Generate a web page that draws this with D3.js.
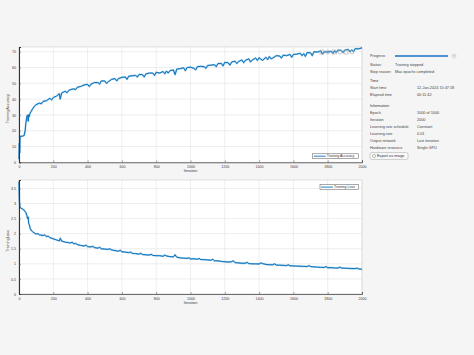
<!DOCTYPE html>
<html><head><meta charset="utf-8">
<script src="https://cdn.jsdelivr.net/npm/d3@7"></script>
<style>html,body{margin:0;padding:0;background:#f5f5f5;}svg{display:block;}</style>
</head><body>
<script>
// ---- data: [iteration, value] ----
const accPoints = [[0,2],[2,12],[4,6],[6,16],[10,16.5],[20,16.5],[30,17],[36,20],[40,25],[46,29],[50,30],[54,26],[56,30],[60,29],[64,31],[70,32],[80,34],[90,35.5],[100,36.5],[120,37.5],[130,37],[140,38.5],[160,39],[180,40.5],[190,39.5],[200,41],[220,42],[235,43.5],[240,40],[250,44],[270,45],[280,44],[290,45.5],[300,46],[320,46.5],[330,46],[340,47.5],[360,48],[380,49],[400,49.3],[410,48],[420,49.5],[440,50.5],[460,50.5],[470,49.5],[480,51.5],[500,51.5],[510,50],[520,51],[540,52.5],[560,53],[570,51.5],[580,53],[600,53.8],[620,54],[630,52.5],[640,54.5],[660,54.8],[680,55],[690,54],[700,55.6],[720,55.5],[730,54],[740,56],[760,56.5],[780,56.5],[790,55],[800,57],[820,56.5],[840,57.5],[850,56],[860,57.8],[870,56.5],[880,58],[900,58.5],[910,55.5],[920,59],[940,59.3],[960,59.8],[970,58],[980,60],[1000,60.2],[1020,59.5],[1030,58.5],[1040,60.5],[1060,60.8],[1080,60.5],[1090,59.5],[1100,61.3],[1120,61.5],[1140,61.8],[1150,60.5],[1160,62.5],[1180,62.6],[1190,61],[1200,63.3],[1220,63],[1230,61.5],[1240,63.5],[1260,64],[1270,62.5],[1280,63.8],[1300,64.8],[1310,63],[1320,64.5],[1340,65.5],[1350,63.5],[1360,64.8],[1380,66],[1390,64.5],[1400,66.2],[1420,64.5],[1440,66.5],[1450,65],[1460,67],[1470,65.5],[1480,66],[1500,67.5],[1520,67.3],[1530,66],[1540,67.8],[1560,67.5],[1580,68.3],[1590,66.5],[1600,68.3],[1620,68.5],[1640,69],[1650,67.5],[1660,68.8],[1670,67],[1680,69.5],[1700,69.3],[1710,67.5],[1720,70],[1740,69.8],[1760,70.5],[1770,68.5],[1780,70],[1800,69.8],[1820,70.3],[1830,69],[1840,70.5],[1850,69.5],[1860,71],[1880,70.8],[1890,69.5],[1900,71],[1920,71.5],[1930,70],[1940,71.2],[1950,70],[1960,72],[1980,71.8],[2000,72.5]];
const lossPoints = [[0,3.72],[2,3.2],[4,2.95],[6,2.88],[10,2.85],[20,2.82],[30,2.78],[40,2.7],[46,2.6],[50,2.5],[54,2.55],[56,2.35],[60,2.3],[64,2.2],[70,2.12],[80,2.06],[90,2.02],[100,1.99],[110,2.0],[120,1.96],[140,1.94],[150,1.96],[160,1.9],[170,1.92],[180,1.87],[200,1.83],[220,1.79],[236,1.76],[240,1.85],[250,1.75],[270,1.72],[290,1.7],[300,1.69],[310,1.72],[320,1.66],[330,1.68],[340,1.64],[360,1.61],[380,1.59],[390,1.62],[400,1.57],[420,1.56],[430,1.58],[440,1.54],[460,1.52],[470,1.55],[480,1.5],[500,1.49],[520,1.48],[530,1.5],[540,1.46],[560,1.44],[580,1.42],[590,1.45],[600,1.4],[620,1.39],[640,1.37],[650,1.39],[660,1.35],[680,1.34],[700,1.32],[710,1.35],[720,1.31],[740,1.3],[760,1.29],[770,1.32],[780,1.28],[800,1.27],[820,1.27],[840,1.25],[850,1.29],[860,1.26],[880,1.24],[900,1.23],[910,1.3],[920,1.22],[940,1.2],[960,1.19],[980,1.18],[990,1.2],[1000,1.16],[1020,1.17],[1040,1.15],[1050,1.18],[1060,1.14],[1080,1.14],[1100,1.13],[1120,1.12],[1130,1.15],[1140,1.1],[1160,1.1],[1180,1.08],[1200,1.07],[1220,1.06],[1240,1.07],[1250,1.1],[1260,1.04],[1280,1.03],[1300,1.02],[1320,1.02],[1330,1.05],[1340,1.01],[1360,1.0],[1380,1.0],[1400,0.995],[1410,1.03],[1420,1.01],[1440,0.98],[1460,0.97],[1480,0.97],[1490,1.0],[1500,0.96],[1520,0.955],[1540,0.95],[1560,0.94],[1570,0.97],[1580,0.935],[1600,0.93],[1620,0.925],[1640,0.92],[1660,0.915],[1680,0.91],[1690,0.94],[1700,0.91],[1720,0.9],[1740,0.89],[1760,0.885],[1780,0.88],[1790,0.91],[1800,0.87],[1820,0.875],[1840,0.865],[1860,0.86],[1870,0.89],[1880,0.86],[1900,0.855],[1920,0.85],[1940,0.845],[1960,0.84],[1970,0.86],[1980,0.835],[2000,0.82]];
const xTicks = [0,200,400,600,800,1000,1200,1400,1600,1800,2000];
const accTicks = [0,10,20,30,40,50,60,70];
const lossTicks = [0,0.5,1,1.5,2,2.5,3,3.5];
const statusRows = [["Status:","Training stopped"],["Stop reason:","Max epochs completed"]];
const timeRows = [["Start time","12-Jan-2024 15:47:18"],["Elapsed time","00:11:42"]];
const infoRows = [["Epoch","1000 of 1000"],["Iteration","2000"],["Learning rate schedule","Constant"],["Learning rate","0.01"],["Output network","Last iteration"],["Hardware resource","Single GPU"]];

// ---- drawing ----
const W=474,H=355;
const svg=d3.select("body").append("svg").attr("width",W).attr("height",H);
svg.append("rect").attr("width",W).attr("height",H).attr("fill","#f5f5f5");
const font="'Liberation Sans', Arial, Helvetica, sans-serif";
const blue="#0a72bd";

function panel(top,bottom,yMax,points,ticks,ylabel,legend,legendPos,fmt){
  const x=d3.scaleLinear([0,2000],[19,362]);
  const y=d3.scaleLinear([0,yMax],[bottom,top]);
  const g=svg.append("g");
  g.append("rect").attr("x",19).attr("y",top).attr("width",343).attr("height",bottom-top).attr("fill","#fff");
  g.selectAll(".vg").data(xTicks).join("line").attr("x1",d=>x(d)).attr("x2",d=>x(d)).attr("y1",top).attr("y2",bottom).attr("stroke","#e3e3e3").attr("stroke-width",0.6);
  g.selectAll(".hg").data(ticks).join("line").attr("x1",19).attr("x2",362).attr("y1",d=>y(d)).attr("y2",d=>y(d)).attr("stroke","#e3e3e3").attr("stroke-width",0.6);
  g.append("rect").attr("x",19).attr("y",top).attr("width",343).attr("height",bottom-top).attr("fill","none").attr("stroke","#c8c8c8").attr("stroke-width",0.5);
  const line=d3.line().x(d=>x(d[0])).y(d=>y(d[1]));
  g.append("path").datum(points).attr("d",line).attr("fill","none").attr("stroke","#5aa6dc").attr("stroke-width",1.8).attr("stroke-linejoin","round").attr("opacity",0.6);
  g.append("path").datum(points).attr("d",line).attr("fill","none").attr("stroke",blue).attr("stroke-width",1.0).attr("stroke-linejoin","round");
  const ax=d3.axisBottom(x).tickValues(xTicks).tickSize(-2).tickPadding(3).tickFormat(d3.format("d"));
  const ga=g.append("g").attr("transform",`translate(0,${bottom})`).call(ax);
  const ay=d3.axisLeft(y).tickValues(ticks).tickSize(-2).tickPadding(3).tickFormat(fmt);
  const gy=g.append("g").attr("transform","translate(19,0)").call(ay);
  [ga,gy].forEach(a=>{a.select(".domain").attr("stroke","#4d4d4d").attr("stroke-width",0.8);
    a.selectAll(".tick line").attr("stroke","#4d4d4d").attr("stroke-width",0.5);
    a.selectAll("text").attr("font-family",font).attr("font-size",3.6).attr("fill","#404040");});
  gy.select(".domain").attr("stroke","#333").attr("stroke-width",1.1);
  g.append("text").attr("x",190.5).attr("y",bottom+9.5).attr("text-anchor","middle").attr("font-family",font).attr("font-size",3.8).attr("fill","#404040").text("Iteration");
  g.append("text").attr("transform",`translate(8.5,${(top+bottom)/2+4}) rotate(-90)`).attr("text-anchor","middle").attr("font-family",font).attr("font-size",3.8).attr("fill","#404040").text(ylabel);
  const [lx,ly,lw]=legendPos;
  g.append("rect").attr("x",lx).attr("y",ly).attr("width",lw).attr("height",4.8).attr("fill","#fff").attr("stroke","#555").attr("stroke-width",0.5);
  g.append("line").attr("x1",lx+1).attr("x2",lx+13).attr("y1",ly+2.4).attr("y2",ly+2.4).attr("stroke",blue).attr("stroke-width",0.9);
  g.append("text").attr("x",lx+14).attr("y",ly+3.6).attr("font-family",font).attr("font-size",3.5).attr("fill","#333").text(legend);
}
panel(47,162.3,73,accPoints,accTicks,"TrainingAccuracy","Training Accuracy",[312.7,153.8,45.6],d3.format("d"));
panel(180,294,3.78,lossPoints,lossTicks,"TrainingLoss","Training Loss",[320,184.7,38.3],d=>String(d));

// axes toolbar icons (faint)
const tb=svg.append("g").attr("stroke","#a8a8a8").attr("fill","none").attr("stroke-width",0.6);
[322,328,334,340,346,352].forEach((cx,i)=>{
  if(i%2===0) tb.append("rect").attr("x",cx-2).attr("y",50).attr("width",4).attr("height",4);
  else tb.append("circle").attr("cx",cx).attr("cy",52).attr("r",2);
});

// right info panel
const tp=svg.append("g").attr("font-family",font).attr("font-size",3.8).attr("fill","#444");
tp.append("text").attr("x",370).attr("y",57.3).text("Progress");
tp.append("line").attr("x1",395).attr("x2",448).attr("y1",56).attr("y2",56).attr("stroke","#1273c4").attr("stroke-width",1.6);
tp.append("circle").attr("cx",454).attr("cy",56).attr("r",2.2).attr("fill","#e8e8e8").attr("stroke","#c8c8c8").attr("stroke-width",0.4);
tp.append("text").attr("x",454).attr("y",57.2).attr("text-anchor","middle").attr("font-size",3).attr("fill","#888").text("×");
const y1=[64.2,71.3];
statusRows.forEach((r,i)=>{tp.append("text").attr("x",370).attr("y",y1[i]+1.3).text(r[0]);tp.append("text").attr("x",395).attr("y",y1[i]+1.3).text(r[1]);});
tp.append("text").attr("x",370).attr("y",82).attr("fill","#333").text("Time");
timeRows.forEach((r,i)=>{const yy=89+i*7.3;tp.append("text").attr("x",370).attr("y",yy).text(r[0]);tp.append("text").attr("x",417).attr("y",yy).text(r[1]);});
tp.append("text").attr("x",370).attr("y",107).attr("fill","#333").text("Information");
infoRows.forEach((r,i)=>{const yy=114+i*7;tp.append("text").attr("x",370).attr("y",yy).text(r[0]);tp.append("text").attr("x",417).attr("y",yy).text(r[1]);});
tp.append("rect").attr("x",370).attr("y",152.6).attr("width",38).attr("height",6.8).attr("rx",1.5).attr("fill","#fafafa").attr("stroke","#a0a0a0").attr("stroke-width",0.5);
tp.append("circle").attr("cx",374).attr("cy",156).attr("r",1.6).attr("fill","none").attr("stroke","#666").attr("stroke-width",0.4);
tp.append("text").attr("x",377).attr("y",157.3).attr("fill","#333").text("Export as image");
</script>
</body></html>
